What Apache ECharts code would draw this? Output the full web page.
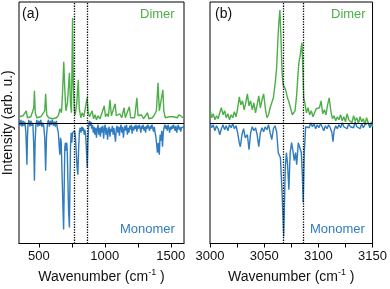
<!DOCTYPE html>
<html><head><meta charset="utf-8">
<script src="https://cdn.jsdelivr.net/npm/echarts@6/dist/echarts.min.js"></script>
<style>html,body{margin:0;padding:0;background:#fff}#c{width:390px;height:289px}</style>
</head><body><div id="c"></div>
<script>
// Panel (a): low-wavenumber region
const waveA_dimer = [350,365,380,395,405,414,425,440,455,462,467,473,485,500,515,530,545,552,560,575,590,605,620,635,650,660,672,680,689,698,705,717,732,740,747,756,761,769,776,788,799,806,818,829,841,851,866,874,885,896,904,915,926,937,949,964,979,996,1005,1016,1027,1039,1050,1061,1078,1087,1098,1113,1128,1146,1155,1166,1186,1196,1211,1226,1243,1252,1263,1278,1293,1308,1323,1334,1346,1361,1376,1391,1403,1413,1424,1440,1447,1458,1473,1488,1503,1518,1533,1548,1563,1578,1593,1600];
const intA_dimer = [0.06,0.04,0.07,0.05,0.12,0.05,0.04,0.06,0.05,0.15,0.32,0.1,0.05,0.04,0.06,0.05,0.12,0.29,0.08,0.05,0.06,0.04,0.06,0.05,0.08,0.14,0.1,0.3,0.61,0.3,0.12,0.2,0.5,0.2,0.1,1.05,0.4,0.12,0.08,0.2,0.43,0.15,0.05,0.1,0.06,0.08,0.25,0.1,0.06,0.04,0.12,0.04,0.08,0.03,0.07,0.04,0.06,0.17,0.06,0.09,0.06,0.23,0.07,0.05,0.19,0.07,0.05,0.09,0.05,0.15,0.05,0.07,0.16,0.05,0.07,0.05,0.25,0.07,0.05,0.08,0.04,0.06,0.1,0.04,0.06,0.05,0.08,0.12,0.40,0.12,0.1,0.33,0.12,0.05,0.04,0.06,0.05,0.06,0.04,0.05,0.08,0.07,0.05,0.04];

const waveA_mono = [350,358,365,373,380,388,395,402,406,410,414,418,425,433,440,448,455,461,467,472,478,485,493,500,508,515,523,530,537,545,552,558,565,573,580,588,595,603,610,618,625,633,640,648,655,660,665,670,676,683,688,692,697,702,707,712,716,720,726,732,736,740,745,750,756,760,766,772,778,784,790,796,802,808,814,820,826,832,838,844,850,856,862,867,872,877,883,889,895,901,907,913,919,925,931,937,943,949,955,961,967,973,979,985,991,997,1003,1009,1015,1021,1027,1033,1039,1045,1051,1057,1063,1069,1075,1081,1087,1093,1099,1105,1111,1117,1123,1129,1135,1141,1147,1153,1159,1165,1171,1177,1183,1189,1195,1201,1207,1213,1219,1225,1231,1237,1243,1249,1255,1261,1267,1273,1279,1285,1291,1297,1303,1309,1315,1321,1327,1333,1339,1345,1351,1357,1363,1369,1375,1381,1387,1393,1399,1405,1413,1419,1425,1431,1437,1443,1449,1455,1461,1467,1473,1479,1485,1491,1497,1503,1509,1515,1521,1527,1533,1539,1545,1551,1557,1563,1569,1575,1581,1587,1593,1600];
const intA_mono = [0.02,-0.03,0.03,-0.04,0.02,-0.03,0.01,-0.1,-0.25,-0.42,-0.15,-0.02,0.03,-0.04,0.02,-0.03,0.0,-0.2,-0.58,-0.2,-0.02,0.03,-0.04,0.02,-0.03,0.03,-0.04,0.0,-0.03,-0.15,-0.48,-0.15,-0.02,0.03,-0.04,0.02,-0.02,0.03,-0.03,0.01,-0.04,0.02,-0.05,-0.1,-0.25,-0.32,-0.15,-0.2,-0.5,-0.85,-1.07,-0.7,-0.25,-0.2,-0.28,-0.2,-0.3,-0.55,-0.9,-1.05,-0.6,-0.25,-0.1,-0.2,-0.1,-0.08,-0.12,-0.08,-0.15,-0.3,-0.45,-0.52,-0.25,-0.08,-0.05,-0.1,-0.04,-0.08,-0.05,-0.12,-0.07,-0.15,-0.3,-0.45,-0.2,-0.05,0.02,-0.03,0.01,-0.06,-0.02,-0.1,-0.04,-0.12,-0.05,-0.15,-0.06,-0.02,-0.12,-0.05,-0.14,-0.04,-0.1,-0.03,-0.16,-0.06,-0.02,-0.12,-0.05,-0.17,-0.08,-0.04,-0.14,-0.06,-0.09,-0.03,-0.12,-0.05,-0.12,-0.19,-0.06,-0.03,-0.1,-0.04,-0.13,-0.05,-0.02,-0.1,-0.04,-0.15,-0.07,-0.03,-0.08,-0.02,-0.12,-0.05,-0.1,-0.03,-0.07,-0.02,-0.11,-0.04,-0.08,-0.03,-0.06,-0.02,-0.09,-0.03,-0.06,-0.02,-0.05,-0.1,-0.03,-0.06,-0.02,-0.08,-0.04,-0.1,-0.03,-0.06,-0.02,-0.04,-0.08,-0.03,-0.06,-0.02,-0.05,-0.09,-0.04,-0.1,-0.14,-0.22,-0.3,-0.2,-0.32,-0.12,-0.18,-0.08,-0.24,-0.1,-0.05,-0.02,-0.06,-0.03,-0.08,-0.02,-0.05,-0.1,-0.04,-0.07,-0.03,-0.06,-0.02,-0.05,-0.08,-0.03,-0.1,-0.05,-0.02,-0.07,-0.04,-0.09,-0.05,-0.03,-0.06,-0.04];

// Panel (b): C-H stretch region
const waveB_dimer = [3000,3001.5,3003,3004.5,3006,3007.5,3009,3010.5,3012,3013.5,3015,3016.5,3018,3019.5,3021,3022.5,3024,3025.5,3027,3028.5,3030,3031.5,3033,3034.5,3036,3037.5,3039,3040.5,3042,3043.5,3045,3046.5,3048,3049.5,3051,3052.5,3054,3055.5,3057,3058.5,3060,3061.5,3062.5,3063.5,3064.5,3065.5,3066.5,3067.5,3068.5,3069.5,3070.5,3071.5,3073,3074.5,3076,3077,3078.5,3080,3081,3082,3083,3084,3084.8,3085.5,3086.5,3087.5,3089,3090.5,3092,3093.5,3095,3096.5,3098,3099.5,3101,3102.5,3104,3105.5,3107,3108.5,3110,3111.5,3113,3114.5,3116,3117.5,3119,3120.5,3122,3123.5,3125,3126.5,3128,3129.5,3131,3132.5,3134,3135.5,3137,3138.5,3140,3141.5,3143,3144.5,3146,3147.5,3149,3150];
const intB_dimer = [0.14,0.05,0.09,0.03,0.07,0.04,0.1,0.15,0.08,0.12,0.05,0.09,0.03,0.08,0.05,0.11,0.06,0.14,0.26,0.18,0.22,0.13,0.2,0.29,0.17,0.22,0.13,0.2,0.1,0.18,0.27,0.15,0.23,0.29,0.15,0.05,0.08,0.15,0.2,0.25,0.38,0.55,0.8,1.0,1.13,0.85,0.5,0.38,0.4,0.34,0.3,0.25,0.2,0.14,0.08,0.06,0.12,0.28,0.45,0.6,0.66,0.74,0.8,0.6,0.25,0.2,0.1,0.15,0.08,0.12,0.06,0.1,0.14,0.12,0.15,0.22,0.09,0.13,0.08,0.18,0.25,0.12,0.04,0.07,0.02,0.06,0.03,0.08,0.02,0.06,0.01,0.09,0.03,0.05,0.0,0.07,0.02,0.05,-0.01,0.06,0.01,0.04,-0.02,0.05,0.0,-0.04,0.01,-0.04];

const waveB_mono = [3000,3001.5,3003,3004.5,3006,3007.5,3009,3010.5,3012,3013.5,3015,3016.5,3018,3019.5,3021,3022.5,3024,3025.5,3027,3028,3029.5,3031,3032.5,3034.5,3036,3037.5,3039,3040.5,3042,3043.5,3045,3046.5,3048,3049.5,3051,3052.5,3054,3055.5,3057,3058.5,3060,3061.5,3063,3065,3066.5,3068,3069.5,3070.5,3071.5,3072.8,3074,3075.3,3076.5,3077.8,3079,3080,3081.5,3083,3084.3,3085.3,3086,3087,3088.3,3090,3091.5,3093,3094.5,3096,3097.5,3099,3100.5,3102,3103.5,3105,3106.5,3108,3109.5,3111,3112.5,3113.5,3114.5,3116,3117.5,3119,3120.5,3122,3123.5,3125,3126.5,3128,3129.5,3131,3132.5,3134,3135.5,3137,3138.5,3140,3141.5,3143,3144.5,3146,3147.5,3149,3150];
const intB_mono = [0.0,-0.05,-0.02,-0.08,-0.03,-0.06,-0.12,-0.06,-0.02,-0.07,-0.03,-0.08,-0.02,-0.05,-0.01,-0.06,-0.03,-0.1,-0.2,-0.24,-0.12,-0.06,-0.15,-0.12,-0.27,-0.1,-0.04,-0.08,-0.05,-0.12,-0.24,-0.1,-0.05,-0.09,-0.04,-0.07,-0.02,-0.1,-0.17,-0.06,-0.03,-0.09,-0.3,-0.35,-0.7,-1.14,-0.45,-0.3,-0.4,-0.67,-0.3,-0.2,-0.28,-0.38,-0.3,-0.42,-0.2,-0.22,-0.3,-0.55,-0.8,-0.3,-0.04,-0.02,-0.05,0.0,-0.04,-0.01,-0.06,-0.02,-0.05,-0.01,-0.04,-0.08,-0.03,-0.06,-0.02,-0.05,-0.1,-0.19,-0.08,-0.03,-0.06,-0.02,-0.05,0.0,-0.04,-0.02,-0.06,-0.01,-0.04,-0.02,-0.05,0.01,-0.04,-0.02,-0.06,-0.01,-0.05,-0.02,-0.04,0.0,-0.05,-0.02,-0.03];

const markersA = [765, 870];
const markersB = [3068, 3086];
const ticksA = [500, 750, 1000, 1250, 1500];
const labelsA = [500, 1000, 1500];
const ticksB = [3000, 3025, 3050, 3075, 3100, 3125, 3150];
const labelsB = [3000, 3050, 3100, 3150];

const GREEN = '#4caf48', BLUE = '#2f7cc0';
const FONT = 'Liberation Sans, Arial, sans-serif';
const zip = (xs, ys) => xs.map((x, i) => [x, ys[i]]);

const chart = echarts.init(document.getElementById('c'));
const xName = {
  name: 'Wavenumber (cm{sup|-1} )', nameLocation: 'middle', nameGap: 25,
  nameTextStyle: {fontSize: 14, color: '#111', fontFamily: FONT,
    rich: {sup: {fontSize: 9, color: '#111', fontFamily: FONT, padding: [0, 0, 8, 0]}}}
};
function xAx(idx, min, max, ticks, labels) {
  return Object.assign({
    type: 'value', gridIndex: idx, min, max,
    axisLine: {show: true, onZero: false, lineStyle: {color: '#000', width: 1}},
    axisTick: {show: true, inside: false, length: 4, customValues: ticks, lineStyle: {color: '#000'}},
    axisLabel: {show: true, customValues: labels, fontSize: 13, color: '#111', fontFamily: FONT, margin: 6,
      formatter: v => String(v)},
    splitLine: {show: false}
  }, xName);
}
function yAx(idx, withName) {
  const o = {
    type: 'value', gridIndex: idx, min: -1.21, max: 1.21,
    axisLine: {show: false}, axisTick: {show: false}, axisLabel: {show: false}, splitLine: {show: false}
  };
  if (withName) {
    o.name = 'Intensity (arb. u.)'; o.nameLocation = 'middle'; o.nameGap = 4;
    o.nameTextStyle = {fontSize: 14, color: '#111', fontFamily: FONT};
  }
  return o;
}
function vlines(vals) {
  return {silent: true, symbol: 'none', label: {show: false},
    lineStyle: {type: 'dotted', color: '#000', width: 1.3},
    data: vals.map(v => ({xAxis: v}))};
}
function zeroLine() {
  return {silent: true, symbol: 'none', label: {show: false},
    lineStyle: {type: 'solid', color: '#000', width: 1}, data: [{yAxis: 0}]};
}
function line(name, xi, data, color, ml) {
  const s = {type: 'line', name, xAxisIndex: xi, yAxisIndex: xi, data, showSymbol: false,
    lineStyle: {color, width: 1.4}, itemStyle: {color}, animation: false};
  if (ml) s.markLine = ml;
  return s;
}
chart.setOption({
  animation: false,
  grid: [
    {left: 17, right: 206, top: 2, bottom: 45, show: true, borderColor: '#000', borderWidth: 1, backgroundColor: 'transparent'},
    {left: 210, right: 14, top: 2, bottom: 45, show: true, borderColor: '#000', borderWidth: 1, backgroundColor: 'transparent'}
  ],
  xAxis: [xAx(0, 350, 1600, ticksA, labelsA), xAx(1, 3000, 3150, ticksB, labelsB)],
  yAxis: [yAx(0, true), yAx(1, false)],
  series: [
    line('DimerA', 0, zip(waveA_dimer, intA_dimer), GREEN, vlines(markersA)),
    line('MonomerA', 0, zip(waveA_mono, intA_mono), BLUE, zeroLine()),
    line('DimerB', 1, zip(waveB_dimer, intB_dimer), GREEN, vlines(markersB)),
    line('MonomerB', 1, zip(waveB_mono, intB_mono), BLUE, zeroLine())
  ],
  graphic: [
    {type: 'text', left: 22, top: 7, style: {text: '(a)', fontSize: 14, fill: '#111', fontFamily: FONT}},
    {type: 'text', left: 140, top: 8, style: {text: 'Dimer', fontSize: 13, fill: GREEN, fontFamily: FONT}},
    {type: 'text', left: 120, top: 223, style: {text: 'Monomer', fontSize: 13, fill: BLUE, fontFamily: FONT}},
    {type: 'text', left: 215, top: 7, style: {text: '(b)', fontSize: 14, fill: '#111', fontFamily: FONT}},
    {type: 'text', left: 331, top: 8, style: {text: 'Dimer', fontSize: 13, fill: GREEN, fontFamily: FONT}},
    {type: 'text', left: 310, top: 223, style: {text: 'Monomer', fontSize: 13, fill: BLUE, fontFamily: FONT}}
  ]
});
</script></body></html>
